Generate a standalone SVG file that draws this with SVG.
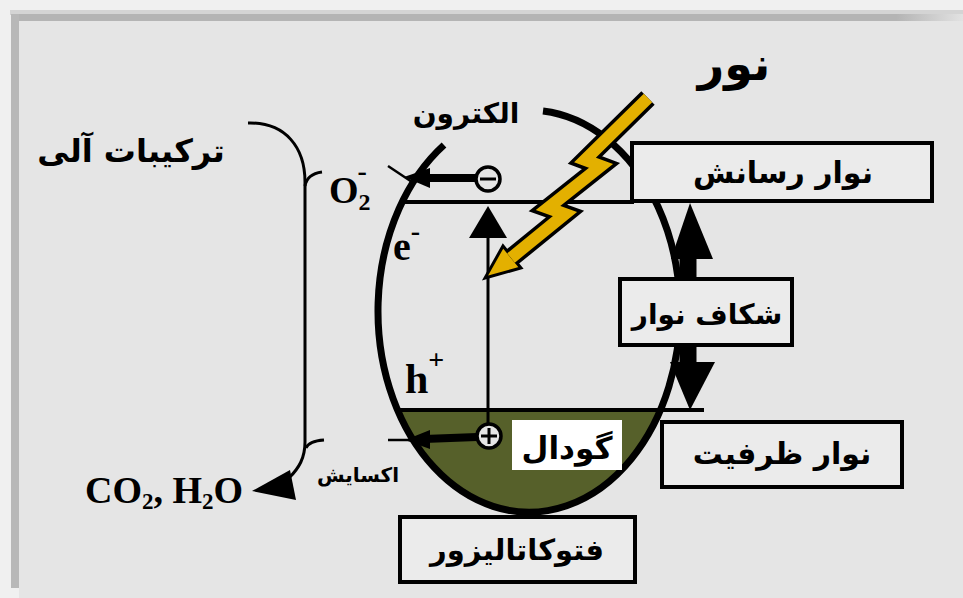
<svg xmlns="http://www.w3.org/2000/svg" width="963" height="598" viewBox="0 0 963 598">
  <style>
    .box { fill: #ebebeb; stroke: #000; stroke-width: 4; }
    .fa { font-family: "DejaVu Sans", "Noto Sans", sans-serif; font-weight: bold; fill: #000; text-anchor: middle; }
    .lat { font-family: "Liberation Serif", "Times New Roman", serif; font-weight: bold; fill: #000; }
    .band { stroke: #000; stroke-width: 4; fill: none; }
    .thin { stroke: #000; stroke-width: 3; fill: none; }
  </style>
  <defs>
    <linearGradient id="topEdge" x1="0" y1="0" x2="1" y2="0">
      <stop offset="0" stop-color="#b4b4b4"/>
      <stop offset="0.93" stop-color="#b4b4b4"/>
      <stop offset="1" stop-color="#e2e2e2"/>
    </linearGradient>
  </defs>

  <!-- frame and panel -->
  <rect x="0" y="0" width="963" height="598" fill="#f0f0f0"/>
  <rect x="10" y="10" width="953" height="5" fill="#d4d4d4"/>
  <rect x="12" y="14" width="951" height="7" fill="url(#topEdge)"/>
  <rect x="11" y="14" width="8" height="574" fill="#b8b8b8"/>
  <rect x="19" y="21" width="944" height="577" fill="#e5e5e5"/>

  <!-- particle: valence region fill -->
  <path d="M398,410 L660,410 A151,201 0 0,1 398,410 Z" fill="#56602a"/>

  <!-- connectors -->
  <g id="connectors">
    <!-- band edges -->
    <line class="band" x1="401" y1="202" x2="634" y2="202"/>
    <line class="band" x1="397" y1="410" x2="704" y2="410"/>

    <!-- particle outline -->
    <path d="M543,111 A151,201 0 1,1 444,145" fill="none" stroke="#000" stroke-width="7"/>

    <!-- organic compounds bracket -->
    <path d="M248,123 C286,122 305,148 305,182 L305,442 C305,458 299,468 289,478" class="thin" stroke-width="4"/>
    <path d="M305,186 Q307,174 322,172" class="thin"/>
    <path d="M306,448 Q309,441 324,440" class="thin"/>
    <polygon points="252,491 290,470 296,500" fill="#000"/>

    <!-- excitation arrow -->
    <line class="thin" x1="488" y1="236" x2="488" y2="424"/>
    <polygon points="488,206 469,238 507,238" fill="#000"/>

    <!-- electron to oxygen -->
    <line x1="476" y1="178" x2="424" y2="178" stroke="#000" stroke-width="8"/>
    <polygon points="404,177 430,168 430,188" fill="#000"/>
    <line x1="388" y1="166" x2="412" y2="182" stroke="#000" stroke-width="2.5"/>

    <!-- hole oxidation -->
    <line x1="477" y1="437" x2="424" y2="439" stroke="#000" stroke-width="8"/>
    <polygon points="405,440 430,430 430,449" fill="#000"/>
    <line x1="388" y1="440" x2="410" y2="440" stroke="#000" stroke-width="2.5"/>

    <!-- band gap double arrow -->
    <line x1="688" y1="255" x2="688" y2="282" stroke="#000" stroke-width="17"/>
    <polygon points="690,203 671,259 713,259" fill="#000"/>
    <line x1="688" y1="342" x2="688" y2="366" stroke="#000" stroke-width="17"/>
    <polygon points="690,410 670,362 715,362" fill="#000"/>
  </g>

  <!-- charge carriers -->
  <g id="electron">
    <circle cx="488" cy="179" r="12" fill="#e5e5e5" stroke="#000" stroke-width="3.5"/>
    <line x1="480" y1="179" x2="496" y2="179" stroke="#000" stroke-width="3"/>
  </g>
  <g id="hole">
    <circle cx="489" cy="436" r="12" fill="#e5e5e5" stroke="#000" stroke-width="3.5"/>
    <line x1="481" y1="436" x2="497" y2="436" stroke="#000" stroke-width="3"/>
    <line x1="489" y1="428" x2="489" y2="444" stroke="#000" stroke-width="3"/>
  </g>

  <!-- light bolt -->
  <g id="light">
    <polyline points="648,98 585,160 601,166 548,208 565,214 511,258" fill="none" stroke="#000" stroke-width="19" stroke-linejoin="miter" stroke-miterlimit="10"/>
    <polygon points="485,278 521,268 503,246" fill="#e3b000" stroke="#000" stroke-width="3" stroke-linejoin="miter"/>
    <polyline points="648,98 585,160 601,166 548,208 565,214 511,258" fill="none" stroke="#e3b000" stroke-width="12" stroke-linejoin="miter" stroke-miterlimit="10"/>
    <text class="fa" x="734" y="80" font-size="46">نور</text>
  </g>

  <!-- boxes -->
  <g id="conduction-band">
    <rect class="box" x="632" y="143" width="300" height="58"/>
    <text class="fa" x="783" y="183" font-size="30">نوار رسانش</text>
  </g>
  <g id="band-gap">
    <rect class="box" x="620" y="279" width="172" height="66"/>
    <text class="fa" x="707" y="324" font-size="28">شکاف نوار</text>
  </g>
  <g id="valence-band">
    <rect class="box" x="662" y="422" width="240" height="65"/>
    <text class="fa" x="782" y="464" font-size="30">نوار ظرفیت</text>
  </g>
  <g id="photocatalyst">
    <rect class="box" x="400" y="517" width="235" height="65"/>
    <text class="fa" x="517" y="560" font-size="29">فتوکاتالیزور</text>
  </g>
  <g id="hole-label">
    <rect x="512" y="420" width="110" height="50" fill="#ffffff"/>
    <text class="fa" x="567" y="459" font-size="31">گودال</text>
  </g>

  <!-- labels -->
  <g id="labels">
    <text class="fa" x="466" y="123" font-size="28">الکترون</text>
    <text class="fa" x="131" y="162" font-size="32">ترکیبات آلی</text>
    <text class="fa" x="358" y="482" font-size="20">اکسایش</text>
    <text class="lat" x="329" y="203" font-size="38">O<tspan font-size="24" dy="7">2</tspan><tspan font-size="28" dx="-13" dy="-30">-</tspan></text>
    <text class="lat" x="393" y="260" font-size="40">e<tspan font-size="28" dy="-20">-</tspan></text>
    <text class="lat" x="405" y="393" font-size="42">h<tspan font-size="28" dy="-24">+</tspan></text>
    <text class="lat" x="85" y="503" font-size="38">CO<tspan font-size="23" dy="6">2</tspan><tspan dy="-6">, H</tspan><tspan font-size="23" dy="6">2</tspan><tspan dy="-6">O</tspan></text>
  </g>
</svg>
